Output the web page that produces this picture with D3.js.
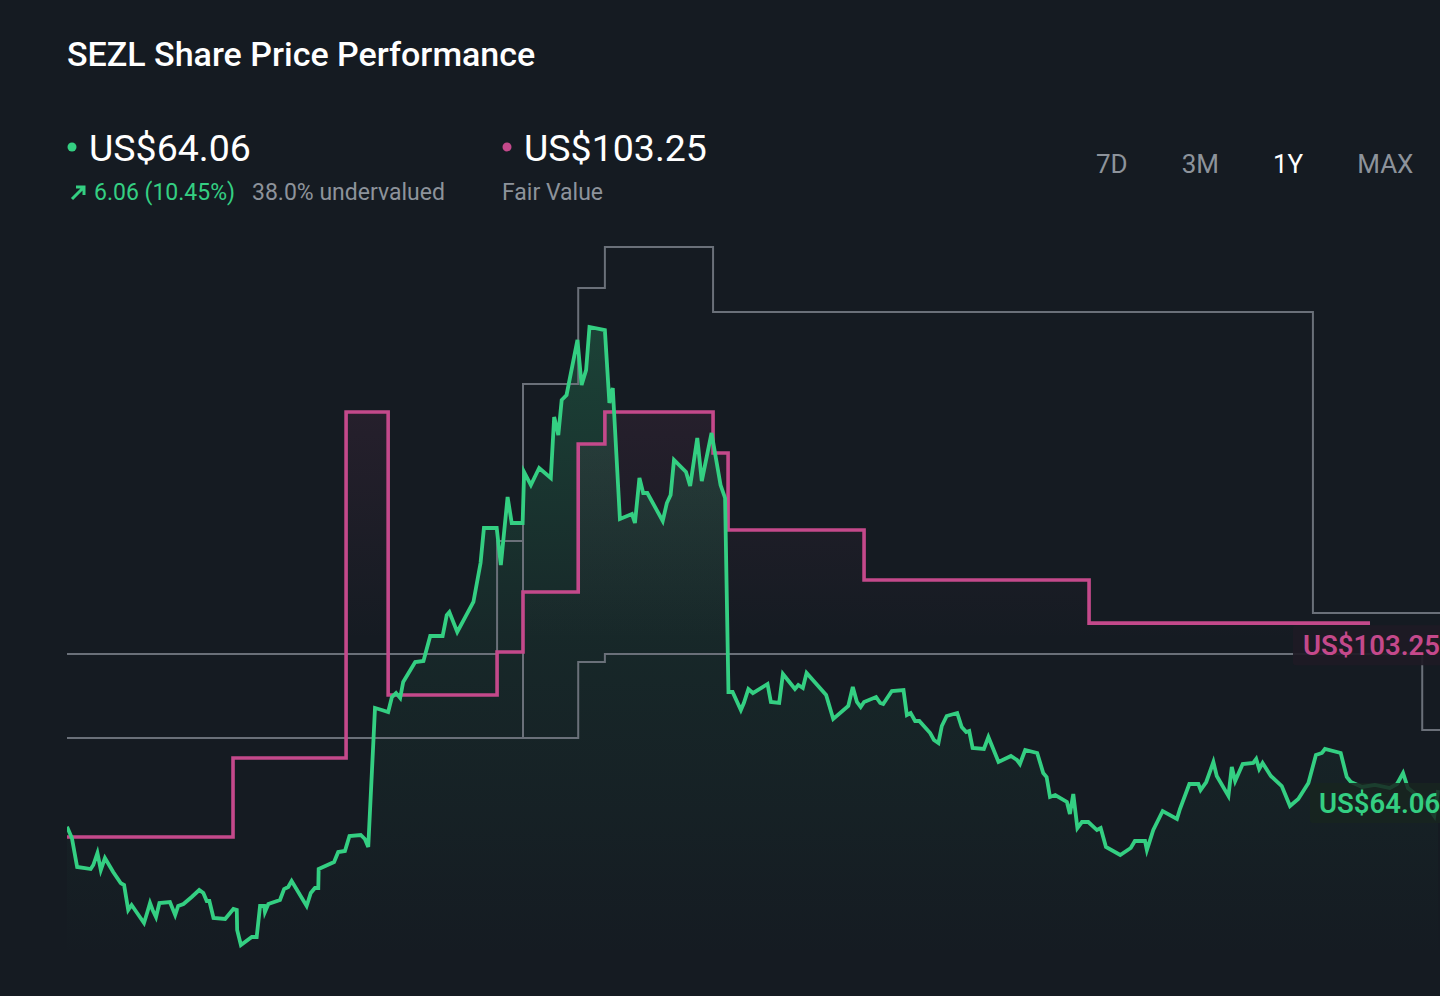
<!DOCTYPE html>
<html><head><meta charset="utf-8">
<script src="https://cdn.jsdelivr.net/npm/d3@7"></script>
<style>
html,body{margin:0;padding:0;background:#151b22;overflow:hidden}
svg{display:block;font-family:Roboto,"Noto Sans",sans-serif}
</style></head><body>
<svg id="chart" width="1440" height="996"></svg>
<script>
// ---- Data (days since start of the 1Y window, prices in US$) ----
const priceDays = [0,1.3,2.7,4.8,6.3,7,8.1,9,10.1,12.3,
14.3,15.2,16.3,17.2,20.5,21.4,22.1,22.8,23.7,24.6,
27.4,28.8,29.6,31,33.2,35.2,36.3,37.2,37.9,39,
42.1,44.3,45.2,45.3,46.3,49.2,50.5,51.4,52.5,52.7,
53.6,56.7,57.8,58.9,59.8,63.8,64.9,66,66.9,67,
71.1,72.2,74,75.2,78.2,79.3,80.2,82,83.8,85.5,
86.5,87.6,88.7,89.5,92.7,94.9,96.7,100,101.1,101.8,
103.9,108.2,110.1,111,114.4,115.5,117.3,118.4,121.3,121.7,
123.5,125.7,128.8,129.7,130.8,131.7,133,135.9,137,138.2,
139.1,143.2,144.4,145.3,147.2,150.4,151.2,152.4,153.4,154.5,
158.6,159.7,160.7,161.6,164.8,165.9,167.8,169,171.6,174,
175.2,176.1,177.2,179.4,180.2,181.4,182.6,186.5,187.4,189.6,
190.6,193.8,194.7,195.9,196.9,202.1,204,208,209.2,210.3,
211.3,212.2,215.4,216.5,217.3,219.6,222.7,223.6,224.6,225.8,
226.9,229.8,230.8,232,232.9,234.2,237,238.2,239.4,240.2,
241.1,244.1,245.3,248,251.3,252.9,253.7,255.1,258.3,259.9,
260.8,261.7,263.1,266.2,267,267.9,269,270.2,271.9,274.2,
275.2,276.6,280.4,283.2,284.3,287,287.5,289.2,291.7,295.5,
296.3,298.8,301.2,301.8,303.3,305.2,306.1,309.2,310.1,311,
313,315.8,316.6,317.4,318.3,320.5,323.4,325.6,327.8,330.5,
332.5,334.1,334.9,339.1,340.7,341.8,344.8,348.2,352.2,354.1,
355.7,357,361,364,365];
const priceValues = [55.47,52.82,46.01,45.77,45.54,46.48,49.30,45.31,48.12,44.84,
42.25,41.78,35.92,37.09,32.86,35.45,37.56,35.92,34.27,37.56,
37.79,34.74,36.85,37.32,38.97,40.61,39.91,38.03,38.03,34.04,
33.80,36.15,35.92,31.22,27.70,29.58,29.58,36.85,36.85,35.45,
37.32,38.26,40.84,41.31,42.72,36.85,39.91,41.08,41.08,45.54,
47.18,49.53,49.77,53.29,53.52,52.58,50.70,83.33,82.86,82.39,
85.91,86.85,85.68,89.44,94.13,94.37,100.23,100.23,105.16,105.87,
101.17,108.22,117.37,125.59,125.59,116.90,132.86,126.76,126.76,138.73,
135.68,139.67,137.32,151.64,147.42,155.63,156.81,169.72,159.15,162.67,
172.77,172.06,154.93,158.45,127.70,128.87,126.76,137.32,133.80,133.80,
127.23,131.45,133.33,141.55,138.73,135.44,146.71,136.62,147.89,135.68,
132.63,87.09,87.09,82.86,84.51,87.79,86.85,88.97,84.74,84.51,
91.31,87.79,88.73,88.03,91.55,86.38,80.75,83.80,88.26,84.74,
83.57,84.74,85.91,84.51,84.27,87.32,87.56,81.69,82.16,80.28,
80.28,77.46,75.82,75.12,79.11,81.45,82.16,78.87,77.70,77.93,
73.94,73.71,76.53,70.66,72.06,71.13,70.19,73.47,72.77,68.07,
67.14,62.44,62.91,61.27,58.45,63.14,55.16,56.57,56.57,54.69,
55.16,50.70,48.83,50.47,52.11,52.11,50.00,54.69,59.15,57.28,
59.62,65.49,65.49,64.08,65.96,70.66,67.37,62.68,69.48,66.20,
70.19,70.42,71.36,69.01,70.42,67.37,65.02,60.33,61.97,65.73,
72.30,72.77,73.71,72.77,67.14,65.96,64.79,65.26,64.55,65.49,
68.07,64.55,61.74,58.00,64.06];

const fairValueDays = [0,44.2,74.3,85.5,114.5,121.4,136.1,143.2,172.0,176.0,212.2,272.1,346.9];
const fairValues    = [53.05,71.60,152.82,86.38,96.48,110.56,145.30,152.82,143.19,125.12,113.38,103.25,103.25];

const highTargetDays   = [0,114.5,121.4,121.4,136.1,143.2,172.0,331.7,366];
const highTargetValues = [96.01,122.53,76.29,159.39,181.92,191.55,176.29,105.63,105.63];
const lowTargetDays    = [0,136.1,143.2,360.8,366];
const lowTargetValues  = [76.29,94.13,96.01,78.17,78.17];

const rangeLabels = ["7D","3M","1Y","MAX"];
const activeRange = "1Y";
const titleText = "SEZL Share Price Performance";
const lastPrice = 64.06, fairValue = 103.25, priceChange = 6.06, priceChangePct = 10.45, undervaluedPct = 38.0;

// ---- Styles ----
const GREEN = "#34cf82", PINK = "#c4498b", GRAY = "#6a7079", MUTED = "#8d939b";

const svg = d3.select("#chart");
const x = d3.scaleLinear().domain([0,365]).range([67,1438]);
const y = d3.scaleLinear().domain([0,200]).range([1063,211]);

const defs = svg.append("defs");
const gg = defs.append("linearGradient").attr("id","gGreen").attr("gradientUnits","userSpaceOnUse")
  .attr("x1",0).attr("x2",0).attr("y1",320).attr("y2",960);
gg.append("stop").attr("offset",0).attr("stop-color",GREEN).attr("stop-opacity",0.22);
gg.append("stop").attr("offset",0.5).attr("stop-color",GREEN).attr("stop-opacity",0.07);
gg.append("stop").attr("offset",1).attr("stop-color",GREEN).attr("stop-opacity",0.0);
const gp = defs.append("linearGradient").attr("id","gPink").attr("gradientUnits","userSpaceOnUse")
  .attr("x1",0).attr("x2",0).attr("y1",400).attr("y2",640);
gp.append("stop").attr("offset",0).attr("stop-color",PINK).attr("stop-opacity",0.1);
gp.append("stop").attr("offset",1).attr("stop-color",PINK).attr("stop-opacity",0.0);
defs.append("clipPath").attr("id","plotClip").append("rect")
  .attr("x",67).attr("y",200).attr("width",1373).attr("height",796);

const price = d3.zip(priceDays, priceValues);
const fv = d3.zip(fairValueDays, fairValues);
const hi = d3.zip(highTargetDays, highTargetValues);
const lo = d3.zip(lowTargetDays, lowTargetValues);

const plot = svg.append("g").attr("clip-path","url(#plotClip)");

// fair value area
plot.append("path").datum(fv)
  .attr("d", d3.area().curve(d3.curveStepAfter).x(d=>x(d[0])).y0(y(0)).y1(d=>y(d[1])))
  .attr("fill","url(#gPink)");
// price area
plot.append("path").datum(price)
  .attr("d", d3.area().x(d=>x(d[0])).y0(y(0)).y1(d=>y(d[1])))
  .attr("fill","url(#gGreen)");

const stepLine = d3.line().curve(d3.curveStepAfter).x(d=>x(d[0])).y(d=>y(d[1]));
plot.append("path").datum(lo).attr("d",stepLine).attr("fill","none").attr("stroke",GRAY).attr("stroke-width",2);
plot.append("path").datum(hi).attr("d",stepLine).attr("fill","none").attr("stroke",GRAY).attr("stroke-width",2);
plot.append("path").datum(fv).attr("d",stepLine).attr("fill","none").attr("stroke",PINK).attr("stroke-width",3.6);
plot.append("path").datum(price)
  .attr("d", d3.line().x(d=>x(d[0])).y(d=>y(d[1])))
  .attr("fill","none").attr("stroke",GREEN).attr("stroke-width",3.8).attr("stroke-linejoin","miter");

// end labels
const fvY = y(fairValue);
svg.append("rect").attr("x",1293).attr("y",fvY+2).attr("width",160).attr("height",40).attr("rx",3)
  .attr("fill","#1e1a25").attr("opacity",0.92);
svg.append("text").attr("x",1303).attr("y",fvY+32).attr("fill",PINK)
  .attr("font-size",27.5).attr("font-weight",600).text("US$" + fairValue.toFixed(2));
const lpY = y(lastPrice);
svg.append("rect").attr("x",1310).attr("y",lpY-7).attr("width",140).attr("height",40).attr("rx",3)
  .attr("fill","#172520").attr("opacity",0.85);
svg.append("text").attr("x",1319).attr("y",lpY+23).attr("fill",GREEN)
  .attr("font-size",27.5).attr("font-weight",600).text("US$" + lastPrice.toFixed(2));

// header
svg.append("text").attr("x",67).attr("y",66).attr("fill","#ffffff")
  .attr("font-size",34).attr("font-weight",500).text(titleText);

svg.append("circle").attr("cx",72).attr("cy",147).attr("r",4.5).attr("fill",GREEN);
svg.append("text").attr("x",89).attr("y",161).attr("fill","#ffffff")
  .attr("font-size",37.5).attr("font-weight",400).text("US$" + lastPrice.toFixed(2));
svg.append("path").attr("d","M72,199 L84,187 M76,187 L84,187 L84,195")
  .attr("fill","none").attr("stroke",GREEN).attr("stroke-width",3);
svg.append("text").attr("x",94).attr("y",200).attr("fill",GREEN)
  .attr("font-size",23).text(priceChange.toFixed(2) + " (" + priceChangePct.toFixed(2) + "%)");
svg.append("text").attr("x",252).attr("y",200).attr("fill",MUTED)
  .attr("font-size",23).text(undervaluedPct.toFixed(1) + "% undervalued");

svg.append("circle").attr("cx",507).attr("cy",147).attr("r",4.5).attr("fill",PINK);
svg.append("text").attr("x",524).attr("y",161).attr("fill","#ffffff")
  .attr("font-size",37.5).attr("font-weight",400).text("US$" + fairValue.toFixed(2));
svg.append("text").attr("x",502).attr("y",200).attr("fill",MUTED)
  .attr("font-size",23).text("Fair Value");

// range selector: labels laid out left to right with equal gaps
const rangeG = svg.append("g");
let rx = 1096;
rangeLabels.forEach(lbl => {
  const t = rangeG.append("text").attr("x",rx).attr("y",173)
    .attr("font-size",26).attr("fill",lbl===activeRange?"#ffffff":MUTED).text(lbl);
  rx += t.node().getComputedTextLength() + 54;
});
</script>
</body></html>
